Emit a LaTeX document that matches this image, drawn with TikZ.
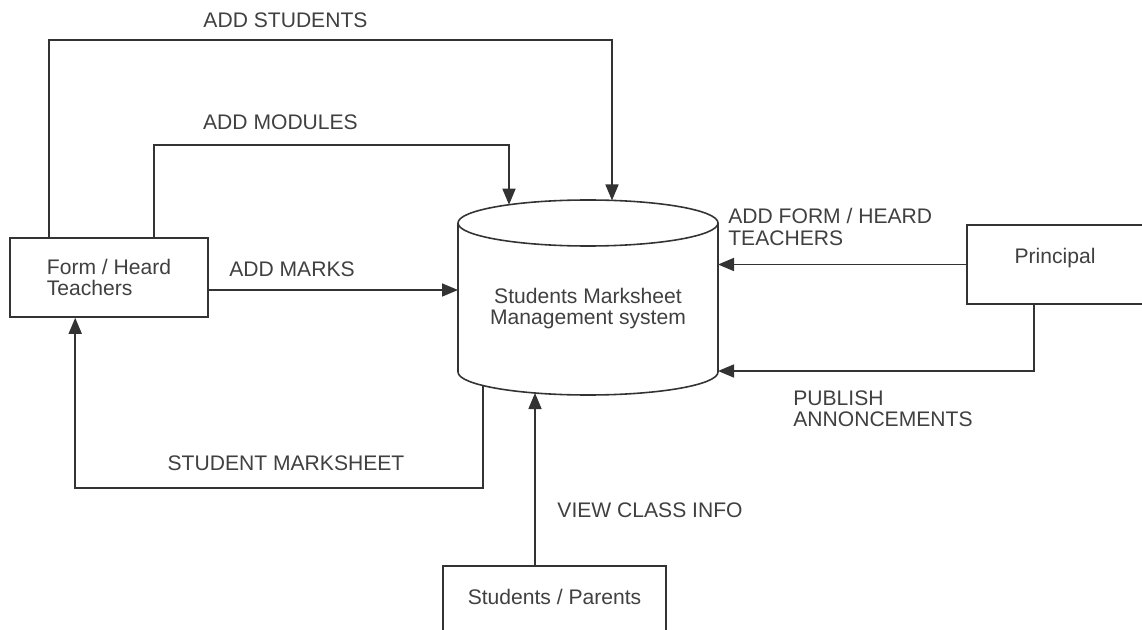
\documentclass[tikz,border=0pt]{standalone}
\usepackage{fontspec}
\setmainfont{Liberation Sans}
\usetikzlibrary{arrows.meta}
\begin{document}
\begin{tikzpicture}[
  line/.style={draw=black!80,line width=0.9pt},
  flow/.style={line,->,>={Triangle[length=3.2mm,width=2.6mm]}},
  entity/.style={line,minimum width=#1,minimum height=1.58cm},
  tag/.style={text=black!75,font=\fontsize{12}{12}\selectfont,inner sep=0pt,align=left},
  lift/.style={text height=8.6pt,text depth=9.6pt}
]
\clip (0,0) rectangle (22.84,12.58);
\node[entity=3.96cm,tag] (form) at (2.18,7.03) {Form / Heard\\Teachers};
\node[entity=3.52cm,tag,lift] (prin) at (21.1,7.29) {Principal};
\node[entity=4.46cm,tag,lift] (stud) at (11.09,0.47) {Students / Parents};
\node[tag,align=center] (sys) at (11.76,6.40) {Students Marksheet\\Management system};
\draw[line] (11.76,8.12) ellipse (2.6 and 0.46);
\draw[line] (9.16,8.12) -- (9.16,5.14) arc (180:360:2.6 and 0.46) -- (14.36,8.12);
\coordinate (inStud) at (12.24,8.57);
\coordinate (inMod) at (10.18,8.485);
\coordinate (inMarks) at (9.16,6.78);
\coordinate (inForm) at (14.36,7.29);
\coordinate (inPub) at (14.36,5.16);
\coordinate (outSheet) at (9.66,4.87);
\coordinate (inView) at (10.70,4.72);
\draw[flow] ([xshift=0.8cm]form.north west) -- ++(0,3.94) -| (inStud);
\draw[flow] ([xshift=2.9cm]form.north west) -- ++(0,1.84) -| (inMod);
\draw[flow] (form.east |- inMarks) -- (inMarks);
\draw[flow] (prin.west) -- (inForm);
\draw[flow] ([xshift=-0.42cm]prin.south) |- (inPub);
\draw[flow] (outSheet) -- ++(0,-2.05) -| ([xshift=1.32cm]form.south west);
\draw[flow] ([xshift=-0.39cm]stud.north) -- (inView);
\node[tag] (lStud) at (5.71,12.18) {ADD STUDENTS};
\node[tag] (lMod) at (5.61,10.14) {ADD MODULES};
\node[tag] (lMarks) at (5.84,7.20) {ADD MARKS};
\node[tag,anchor=west] (lForm) at (14.56,8.04) {ADD FORM / HEARD\\TEACHERS};
\node[tag,anchor=west] (lPub) at (15.86,4.40) {PUBLISH\\ANNONCEMENTS};
\node[tag] (lSheet) at (5.72,3.32) {STUDENT MARKSHEET};
\node[tag] (lView) at (13.0,2.38) {VIEW CLASS INFO};
\end{tikzpicture}
\end{document}
